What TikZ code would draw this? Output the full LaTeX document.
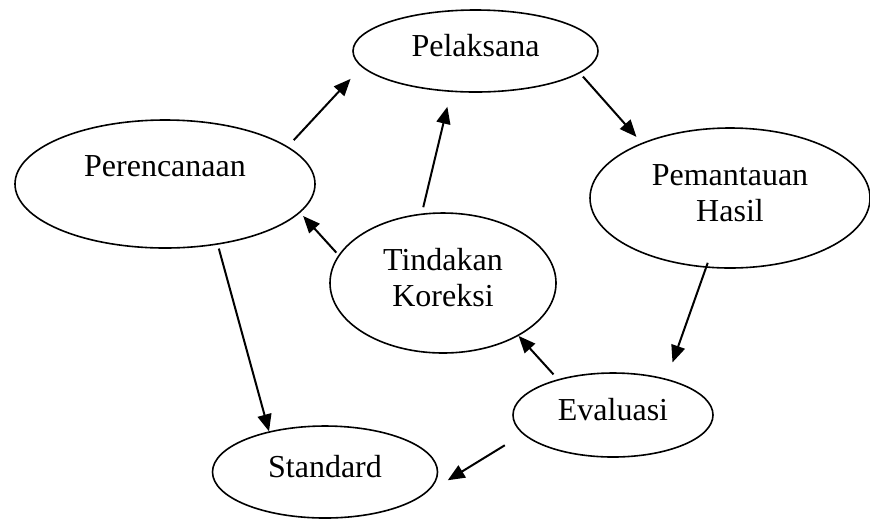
\documentclass[tikz,border=0pt]{standalone}
\usepackage{fontspec}
\setmainfont{Liberation Serif}
\usetikzlibrary{shapes.geometric,arrows.meta}

\begin{document}
\begin{tikzpicture}[x=0.5pt,y=-0.5pt,
  oval/.style 2 args={ellipse,draw,line width=0.8pt,inner sep=0pt,minimum width=#1,minimum height=#2},
  txt/.style={font=\fontsize{16}{18}\selectfont,align=center,yshift=2.5pt},
  arr/.style={-{Triangle[length=8.5pt,width=7pt]},line width=1pt}]
\useasboundingbox (0,0) rectangle (870,521);
% ovals
\node[oval={122.5pt}{41pt},label={[txt]center:Pelaksana}] (exec) at (475.5,51) {};
\node[oval={150pt}{64pt},label={[txt,yshift=6.5pt]center:Perencanaan}] (plan) at (165,184) {};
\node[oval={140pt}{70pt},label={[txt]center:Pemantauan\\Hasil}] (mon) at (730,198) {};
\node[oval={113pt}{70pt},label={[txt]center:Tindakan\\Koreksi}] (fix) at (443,283) {};
\node[oval={100pt}{42pt},label={[txt]center:Evaluasi}] (eval) at (613,415) {};
\node[oval={112.5pt}{46pt},label={[txt]center:Standard}] (std) at (325,472) {};
% cycle
\draw[arr,shorten <=4.3pt,shorten >=8.1pt] (plan.17) -- (exec.188);
\draw[arr,shorten <=2.25pt,shorten >=4pt] (exec.348) -- (mon.148);
\draw[arr,shorten <=-2.65pt,shorten >=8.7pt] (mon.251) -- (eval.34);
\draw[arr,shorten <=3.25pt] (eval.147) -- (fix.325);
\draw[arr,shorten <=10.6pt,shorten >=19.75pt] (eval.192) -- (std.342);
\draw[arr,shorten <=2pt] (plan.311) -- (std.144);
% corrections
\draw[arr,shorten <=1.6pt,shorten >=2.2pt] (fix.165) -- (plan.348);
\draw[arr,shorten <=3.2pt,shorten >=7.6pt] (fix.107) -- (exec.239);
\end{tikzpicture}
\end{document}
